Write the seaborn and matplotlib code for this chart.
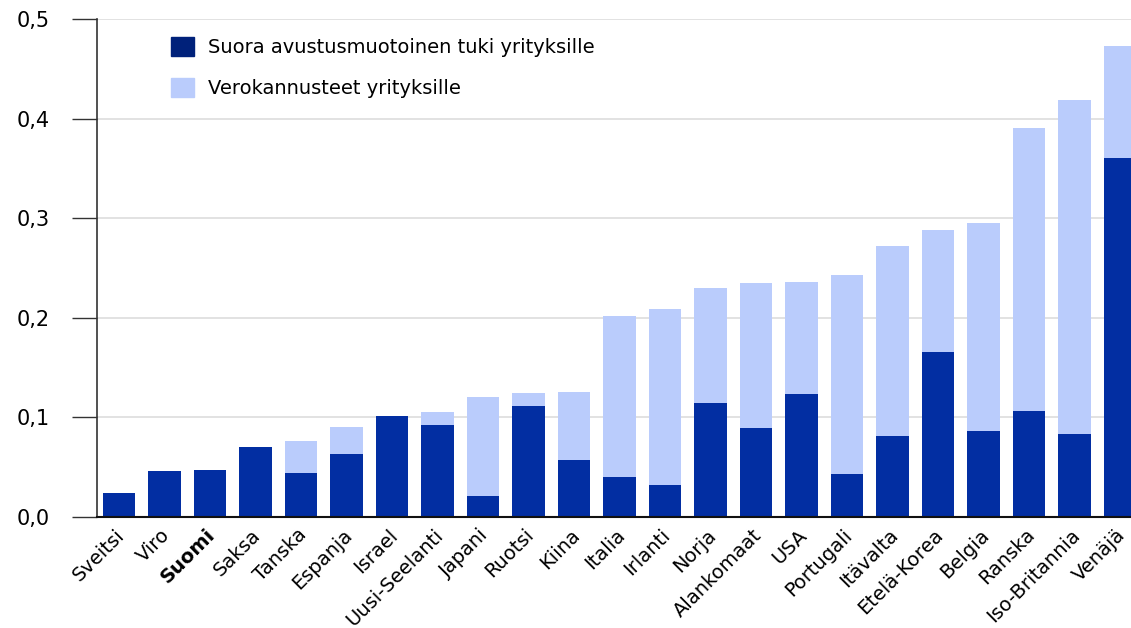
import numpy as np
import pandas as pd
import matplotlib
matplotlib.use("Agg")
import matplotlib.pyplot as plt
import seaborn as sns
from matplotlib.patches import Patch

# ==========================================================
# DATA
# ==========================================================

countries = [
    "Sveitsi", "Viro", "Suomi", "Saksa", "Tanska", "Espanja", "Israel",
    "Uusi-Seelanti", "Japani", "Ruotsi", "Kiina", "Italia", "Irlanti",
    "Norja", "Alankomaat", "USA", "Portugali", "Itävalta", "Etelä-Korea",
    "Belgia", "Ranska", "Iso-Britannia", "Venäjä",
]

direct_support = [
    0.024, 0.046, 0.047, 0.070, 0.044, 0.063, 0.101,
    0.092, 0.021, 0.111, 0.057, 0.040, 0.032,
    0.114, 0.089, 0.123, 0.043, 0.081, 0.166,
    0.086, 0.106, 0.083, 0.360,
]

total_support = [
    0.024, 0.046, 0.047, 0.070, 0.076, 0.090, 0.101,
    0.105, 0.120, 0.124, 0.125, 0.202, 0.209,
    0.230, 0.235, 0.236, 0.243, 0.272, 0.288,
    0.295, 0.391, 0.419, 0.473,
]

legend_labels = ["Suora avustusmuotoinen tuki yrityksille", "Verokannusteet yrityksille"]
y_ticks = [0.0, 0.1, 0.2, 0.3, 0.4, 0.5]

DARK = "#022ea2"
LIGHT = "#baccfc"

df = pd.DataFrame({
    "country": countries,
    "direct": direct_support,
    "total": total_support,
})

# ==========================================================
# PLOT
# ==========================================================

sns.set_style("white")
plt.rcParams["font.family"] = ["DejaVu Sans"]

fig = plt.figure(figsize=(11.31, 6.28), dpi=100)
ax = fig.add_axes([0.0858, 0.1768, 0.9142, 0.7929])

sns.barplot(data=df, x="country", y="total", color=LIGHT, width=0.72,
            saturation=1, linewidth=0, ax=ax, zorder=2)
sns.barplot(data=df, x="country", y="direct", color=DARK, width=0.72,
            saturation=1, linewidth=0, ax=ax, zorder=3)

ax.set_ylim(0, 0.5)
ax.set_xlim(-0.48, len(countries) - 0.76)
ax.set_yticks(y_ticks)
ax.set_yticklabels([f"{t:.1f}".replace(".", ",") for t in y_ticks],
                   fontsize=15, color="black")
ax.yaxis.grid(True, color="#dddddd", linewidth=1.2, zorder=0)
ax.set_axisbelow(True)

ax.set_xlabel("")
ax.set_ylabel("")
ax.set_xticks(range(len(countries)))
ax.set_xticklabels([])

# country labels, rotated and nudged slightly left so the last fits
for i, name in enumerate(countries):
    ax.annotate(
        name,
        xy=(i, 0), xycoords=("data", "axes fraction"),
        xytext=(-3, -6), textcoords="offset points",
        rotation=45, ha="right", va="top", rotation_mode="anchor",
        fontsize=14, color="black",
        fontweight="bold" if name == "Suomi" else "normal",
        annotation_clip=False,
    )

ax.tick_params(axis="x", length=0)
ax.tick_params(axis="y", length=18, width=1, color="#333333", pad=16, left=True)

for side in ["top", "right"]:
    ax.spines[side].set_visible(False)
ax.spines["left"].set_color("#333333")
ax.spines["bottom"].set_color("#111111")
ax.spines["left"].set_linewidth(1.2)
ax.spines["bottom"].set_linewidth(1.5)
ax.spines["bottom"].set_zorder(4)

handles = [Patch(color="#00217a"), Patch(color=LIGHT)]
leg = ax.legend(handles, legend_labels, loc="upper left",
                bbox_to_anchor=(0.055, 1.0), frameon=False, fontsize=14,
                handlelength=1.15, handleheight=1.15, labelspacing=1.1,
                handletextpad=0.75)
for t in leg.get_texts():
    t.set_color("black")

plt.savefig("out.png", dpi=100)
